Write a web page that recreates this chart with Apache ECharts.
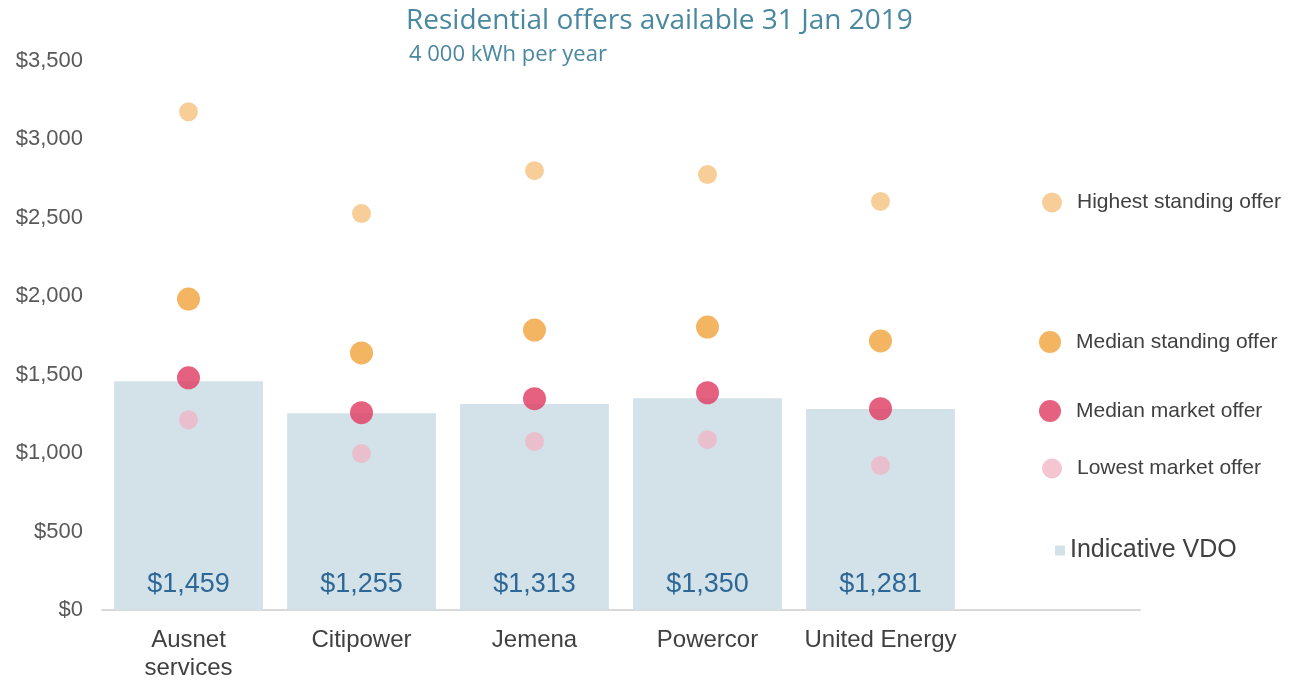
<!DOCTYPE html>
<html>
<head>
<meta charset="utf-8">
<script src="https://cdn.jsdelivr.net/npm/echarts@6/dist/echarts.min.js"></script>
<style>
  html, body { margin: 0; padding: 0; background: #fff; }
  #chart { width: 1301px; height: 681px; }
</style>
</head>
<body>
<div id="chart"></div>
<script>
// distributors (last slot is empty, leaves room on the right like the original)
var categories = ['Ausnet\nservices', 'Citipower', 'Jemena', 'Powercor', 'United Energy', ''];
var vdo = [1459, 1255, 1313, 1350, 1281, null];
var highestStanding = [3176, 2528, 2801, 2776, 2605, null];
var medianStanding = [1982, 1639, 1785, 1804, 1715, null];
var medianMarket = [1480, 1258, 1347, 1385, 1283, null];
var lowestMarket = [1213, 997, 1074, 1086, 921, null];

function dollars(v) {
    return '$' + String(v).replace(/\B(?=(\d{3})+(?!\d))/g, ',');
}

var myChart = echarts.init(document.getElementById('chart'));
var legendText = { fontSize: 21, color: '#404040', fontFamily: 'Liberation Sans', padding: [0, 0, 0, 10] };

myChart.setOption({
    animation: false,
    title: [{
        text: 'Residential offers available 31 Jan 2019',
        left: 401, top: 2,
        textStyle: { fontSize: 28, fontWeight: 'normal', color: '#4A88A0', fontFamily: 'Open Sans' }
    }, {
        text: '4 000 kWh per year',
        left: 404, top: 39,
        textStyle: { fontSize: 22, fontWeight: 'normal', color: '#4A88A0', fontFamily: 'Open Sans' }
    }],
    legend: [
        { data: ['Highest standing offer'], left: 1037, top: 187, itemWidth: 20, itemHeight: 20, textStyle: legendText },
        { data: ['Median standing offer'], left: 1034, top: 326, itemWidth: 22, itemHeight: 22, textStyle: legendText },
        { data: ['Median market offer'], left: 1034, top: 395, itemWidth: 22, itemHeight: 22, textStyle: legendText },
        { data: ['Lowest market offer'], left: 1037, top: 453, itemWidth: 20, itemHeight: 20, textStyle: legendText },
        { data: ['Indicative VDO'], left: 1050, top: 533, itemWidth: 10, itemHeight: 10, icon: 'rect',
          textStyle: { fontSize: 25, color: '#404040', fontFamily: 'Liberation Sans', padding: [0, 0, 0, 0] } }
    ],
    grid: { left: 102, right: 161, top: 61, bottom: 71, outerBoundsMode: 'none' },
    xAxis: {
        type: 'category',
        data: categories,
        axisLine: { lineStyle: { color: '#D9D9D9', width: 2 } },
        axisTick: { show: false },
        axisLabel: { fontSize: 24, color: '#404040', fontFamily: 'Liberation Sans', margin: 16, lineHeight: 28, interval: 0 }
    },
    yAxis: {
        type: 'value',
        min: 0, max: 3500, interval: 500,
        splitLine: { show: false },
        axisLine: { show: false },
        axisTick: { show: false },
        axisLabel: { fontSize: 22, color: '#595959', fontFamily: 'Liberation Sans', margin: 19, formatter: dollars }
    },
    series: [{
        name: 'Indicative VDO',
        type: 'bar',
        data: vdo,
        barWidth: '86%',
        itemStyle: { color: '#D3E1E9' },
        label: {
            show: true, position: 'insideBottom', distance: 12,
            fontSize: 27, color: '#2D6796', fontFamily: 'Liberation Sans',
            formatter: function (p) { return dollars(p.value); }
        },
        z: 1
    }, {
        name: 'Highest standing offer',
        type: 'scatter',
        data: highestStanding,
        symbolSize: 19,
        itemStyle: { color: '#F5C27E' },
        z: 3
    }, {
        name: 'Median standing offer',
        type: 'scatter',
        data: medianStanding,
        symbolSize: 23,
        itemStyle: { color: '#F0A33A' },
        z: 3
    }, {
        name: 'Median market offer',
        type: 'scatter',
        data: medianMarket,
        symbolSize: 23,
        itemStyle: { color: '#E0395F' },
        z: 3
    }, {
        name: 'Lowest market offer',
        type: 'scatter',
        data: lowestMarket,
        symbolSize: 19,
        itemStyle: { color: '#F2B3C3', opacity: 0.75 },
        z: 3
    }]
});
</script>
</body>
</html>
